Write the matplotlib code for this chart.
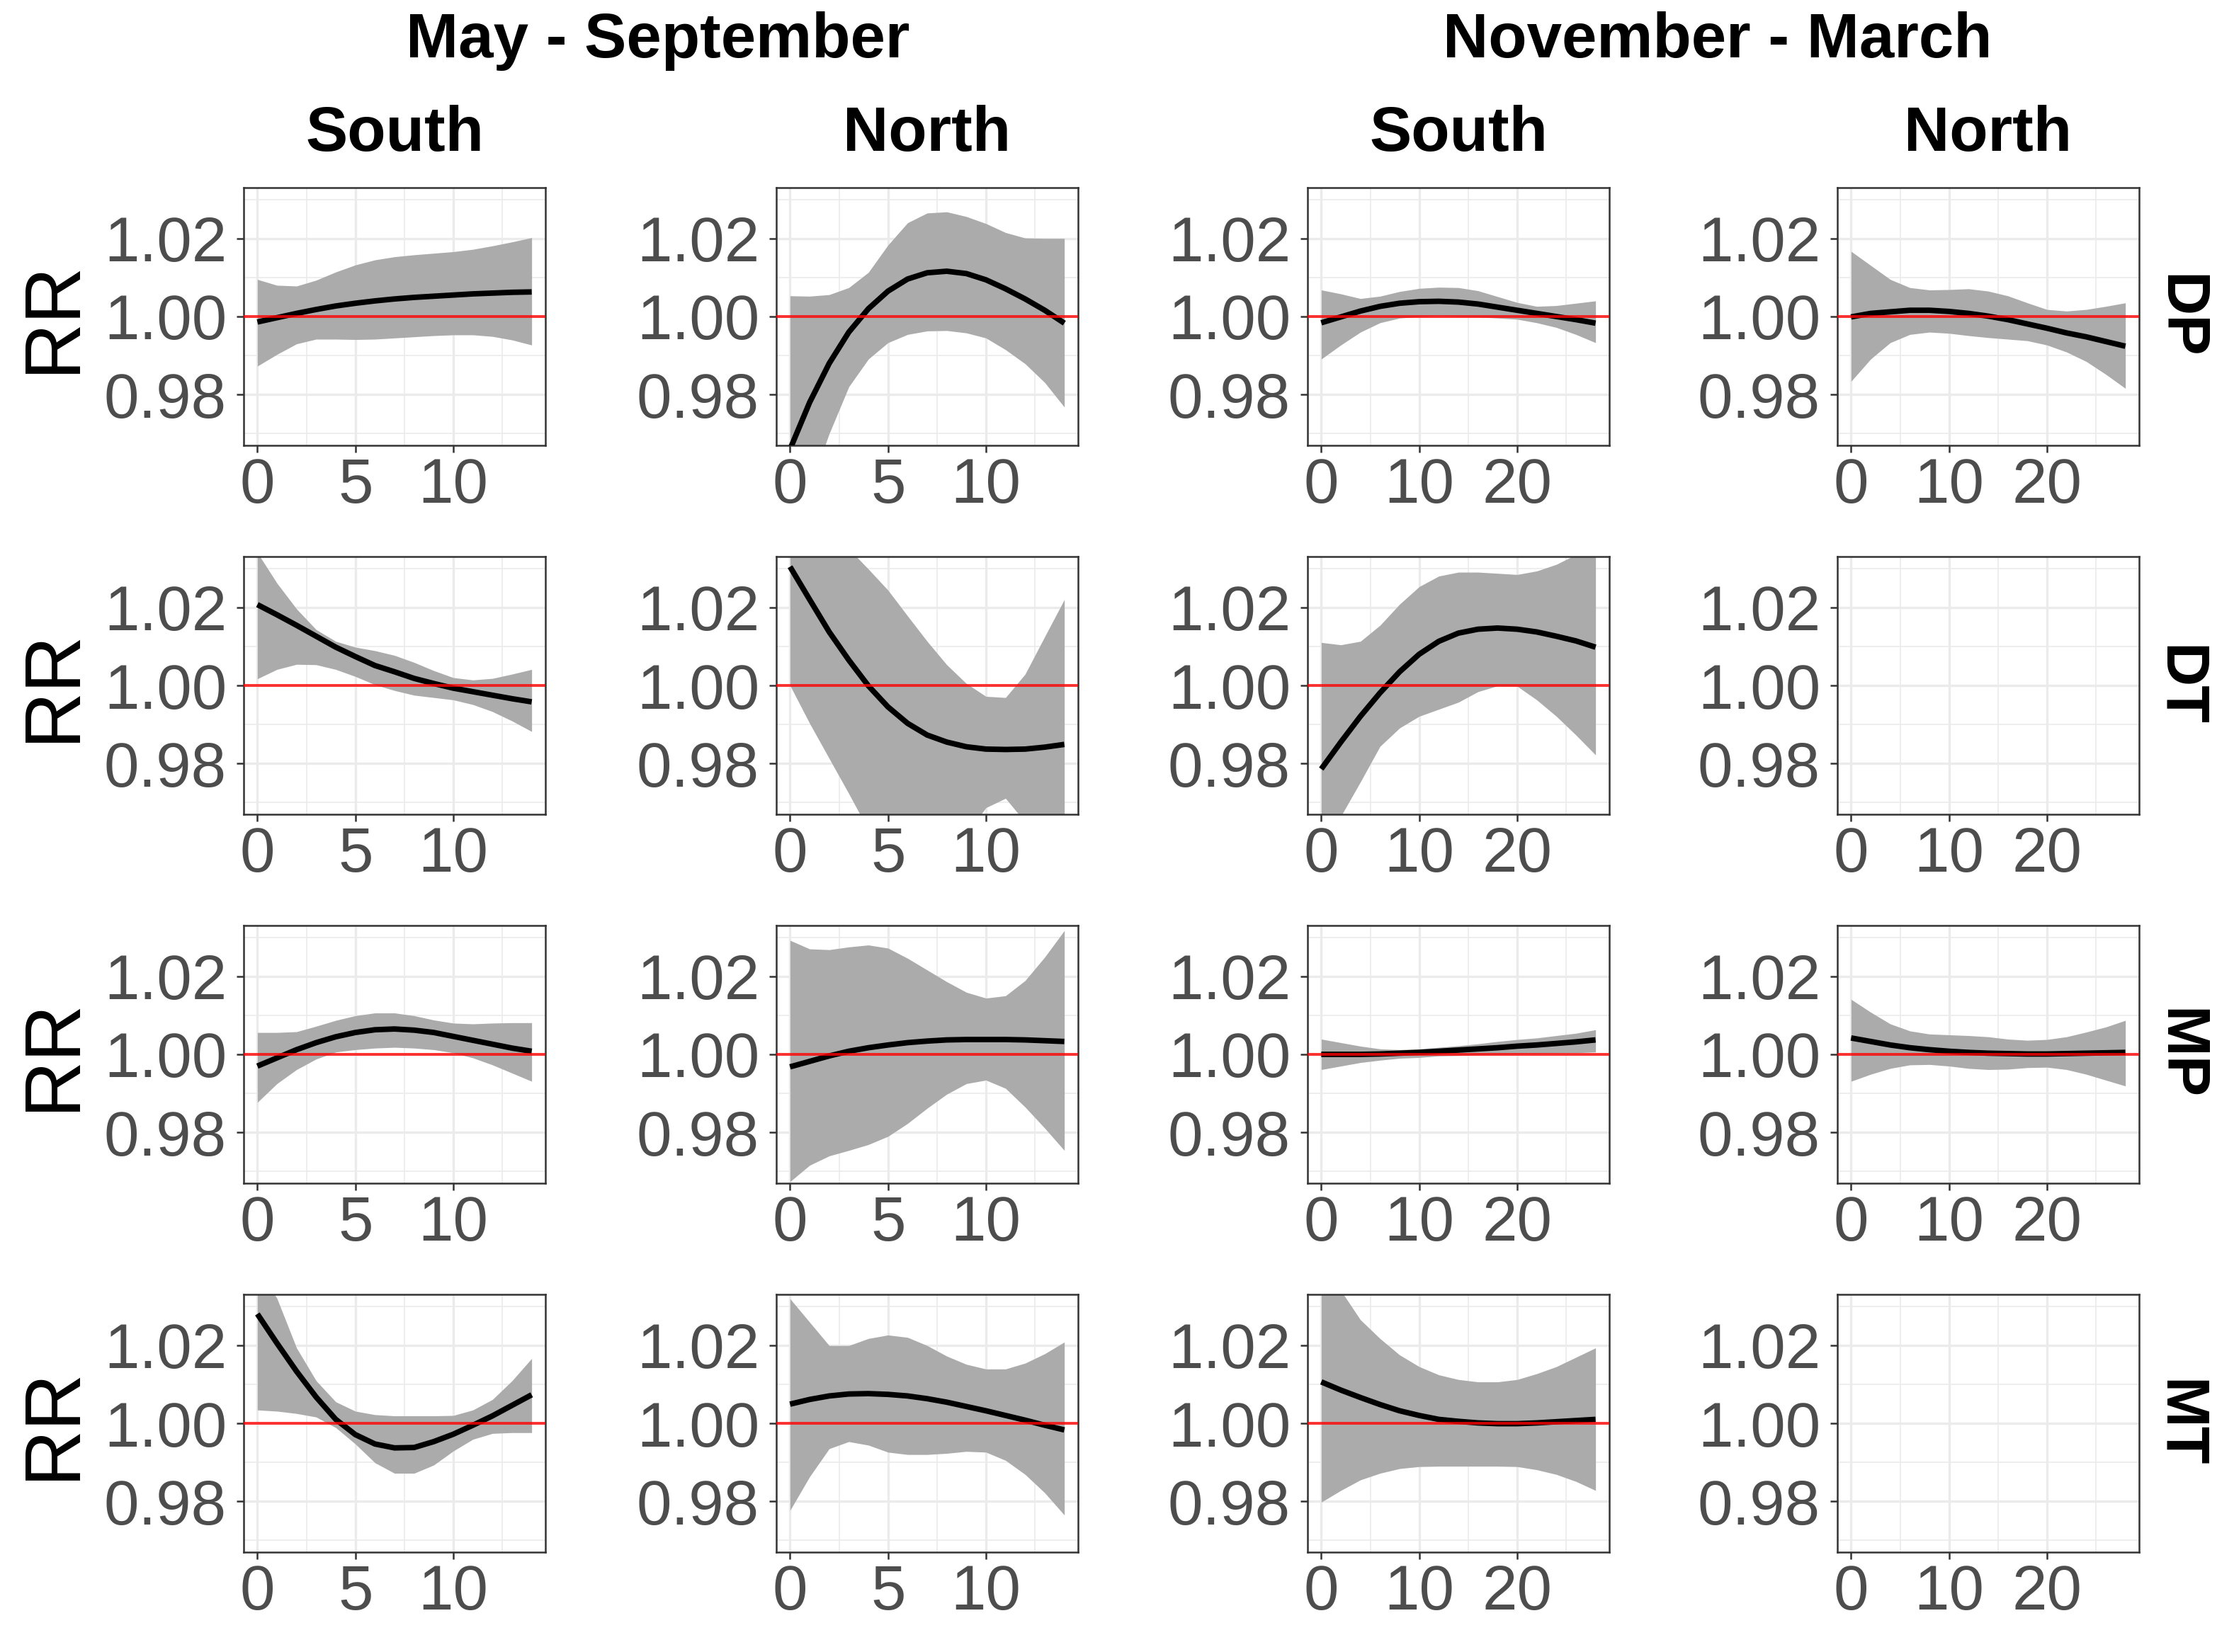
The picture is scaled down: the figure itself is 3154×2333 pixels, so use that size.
import matplotlib
matplotlib.use("Agg")
import matplotlib.pyplot as plt
from matplotlib import font_manager
from matplotlib.ticker import MultipleLocator

# ---------------- data ----------------
lag_summer = [0, 1, 2, 3, 4, 5, 6, 7, 8, 9, 10, 11, 12, 13, 14]
lag_winter = [0, 2, 4, 6, 8, 10, 12, 14, 16, 18, 20, 22, 24, 26, 28]

season_titles = ["May - September", "November - March"]
region_titles = ["South", "North", "South", "North"]
variable_labels = ["DP", "DT", "MP", "MT"]
y_ticks = [0.98, 1.00, 1.02]
y_tick_labels = ["0.98", "1.00", "1.02"]
x_ticks_summer = [0, 5, 10]
x_ticks_winter = [0, 10, 20]
reference_rr = 1.0

# DP, May-Sep, South
dp_ms_s_fit = [0.9986, 0.9997, 1.0008, 1.0018, 1.0027, 1.0034, 1.0040, 1.0045, 1.0049, 1.0052, 1.0055, 1.0058, 1.0060, 1.0062, 1.0063]
dp_ms_s_hi = [1.0095, 1.0080, 1.0078, 1.0093, 1.0114, 1.0132, 1.0145, 1.0153, 1.0158, 1.0162, 1.0166, 1.0172, 1.0181, 1.0191, 1.0202]
dp_ms_s_lo = [0.9873, 0.9903, 0.9930, 0.9942, 0.9942, 0.9941, 0.9942, 0.9945, 0.9948, 0.9951, 0.9953, 0.9953, 0.9949, 0.9940, 0.9927]
# DP, May-Sep, North
dp_ms_n_fit = [0.9660, 0.9780, 0.9880, 0.9960, 1.0020, 1.0065, 1.0096, 1.0112, 1.0116, 1.0110, 1.0094, 1.0071, 1.0045, 1.0016, 0.9983]
dp_ms_n_hi = [1.0053, 1.0052, 1.0056, 1.0074, 1.0113, 1.0183, 1.0240, 1.0265, 1.0268, 1.0256, 1.0238, 1.0215, 1.0201, 1.0200, 1.0200]
dp_ms_n_lo = [0.9400, 0.9560, 0.9700, 0.9820, 0.9891, 0.9933, 0.9954, 0.9963, 0.9964, 0.9958, 0.9945, 0.9915, 0.9879, 0.9831, 0.9768]
# DP, Nov-Mar, South
dp_nm_s_fit = [0.9984, 0.9999, 1.0014, 1.0026, 1.0034, 1.0038, 1.0039, 1.0037, 1.0032, 1.0024, 1.0016, 1.0008, 1.0000, 0.9992, 0.9983]
dp_nm_s_hi = [1.0068, 1.0058, 1.0046, 1.0052, 1.0064, 1.0072, 1.0075, 1.0074, 1.0066, 1.0051, 1.0036, 1.0026, 1.0028, 1.0034, 1.0040]
dp_nm_s_lo = [0.9891, 0.9927, 0.9960, 0.9984, 0.9996, 1.0000, 1.0002, 1.0000, 0.9999, 0.9996, 0.9993, 0.9984, 0.9972, 0.9954, 0.9933]
# DP, Nov-Mar, North
dp_nm_n_fit = [0.9999, 1.0008, 1.0012, 1.0016, 1.0016, 1.0013, 1.0008, 1.0001, 0.9992, 0.9981, 0.9970, 0.9958, 0.9948, 0.9936, 0.9924]
dp_nm_n_hi = [1.0167, 1.0131, 1.0095, 1.0074, 1.0068, 1.0069, 1.0071, 1.0065, 1.0053, 1.0035, 1.0018, 1.0014, 1.0018, 1.0026, 1.0035]
dp_nm_n_lo = [0.9834, 0.9891, 0.9933, 0.9954, 0.9960, 0.9957, 0.9951, 0.9946, 0.9942, 0.9938, 0.9927, 0.9909, 0.9885, 0.9852, 0.9816]

# DT, May-Sep, South
dt_ms_s_fit = [1.0207, 1.0181, 1.0154, 1.0126, 1.0098, 1.0074, 1.0051, 1.0035, 1.0018, 1.0005, 0.9993, 0.9984, 0.9975, 0.9966, 0.9958]
dt_ms_s_hi = [1.0340, 1.0262, 1.0196, 1.0143, 1.0113, 1.0098, 1.0089, 1.0077, 1.0059, 1.0038, 1.0020, 1.0014, 1.0018, 1.0029, 1.0041]
dt_ms_s_lo = [1.0017, 1.0041, 1.0054, 1.0053, 1.0041, 1.0023, 1.0002, 0.9987, 0.9975, 0.9969, 0.9963, 0.9951, 0.9933, 0.9909, 0.9882]
# DT, May-Sep, North
dt_ms_n_fit = [1.0304, 1.0220, 1.0137, 1.0065, 0.9999, 0.9945, 0.9903, 0.9873, 0.9855, 0.9843, 0.9837, 0.9836, 0.9837, 0.9842, 0.9849]
dt_ms_n_hi = [1.0400, 1.0400, 1.0380, 1.0350, 1.0298, 1.0244, 1.0178, 1.0113, 1.0053, 1.0005, 0.9972, 0.9969, 1.0029, 1.0125, 1.0220]
dt_ms_n_lo = [1.0000, 0.9903, 0.9813, 0.9723, 0.9630, 0.9550, 0.9500, 0.9500, 0.9570, 0.9620, 0.9687, 0.9711, 0.9650, 0.9550, 0.9460]
# DT, Nov-Mar, South
dt_nm_s_fit = [0.9786, 0.9855, 0.9921, 0.9981, 1.0035, 1.0080, 1.0113, 1.0134, 1.0144, 1.0147, 1.0144, 1.0137, 1.0126, 1.0114, 1.0098]
dt_nm_s_hi = [1.0110, 1.0104, 1.0113, 1.0154, 1.0208, 1.0253, 1.0280, 1.0290, 1.0290, 1.0287, 1.0284, 1.0293, 1.0310, 1.0335, 1.0360]
dt_nm_s_lo = [0.9580, 0.9665, 0.9753, 0.9844, 0.9891, 0.9921, 0.9939, 0.9957, 0.9984, 0.9999, 0.9998, 0.9963, 0.9921, 0.9873, 0.9822]

# MP, May-Sep, South
mp_ms_s_fit = [0.9970, 0.9991, 1.0012, 1.0030, 1.0045, 1.0056, 1.0063, 1.0065, 1.0062, 1.0056, 1.0046, 1.0036, 1.0026, 1.0016, 1.0008]
mp_ms_s_hi = [1.0056, 1.0056, 1.0058, 1.0072, 1.0087, 1.0099, 1.0106, 1.0106, 1.0099, 1.0088, 1.0080, 1.0078, 1.0080, 1.0081, 1.0081]
mp_ms_s_lo = [0.9877, 0.9925, 0.9961, 0.9988, 1.0006, 1.0012, 1.0016, 1.0018, 1.0016, 1.0012, 1.0004, 0.9991, 0.9973, 0.9952, 0.9931]
# MP, May-Sep, North
mp_ms_n_fit = [0.9968, 0.9982, 0.9996, 1.0008, 1.0017, 1.0024, 1.0030, 1.0034, 1.0037, 1.0038, 1.0038, 1.0038, 1.0037, 1.0035, 1.0033]
mp_ms_n_hi = [1.0292, 1.0270, 1.0268, 1.0275, 1.0280, 1.0272, 1.0246, 1.0216, 1.0186, 1.0159, 1.0144, 1.0150, 1.0189, 1.0249, 1.0317]
mp_ms_n_lo = [0.9674, 0.9716, 0.9740, 0.9754, 0.9769, 0.9790, 0.9823, 0.9862, 0.9898, 0.9925, 0.9934, 0.9913, 0.9865, 0.9811, 0.9754]
# MP, Nov-Mar, South
mp_nm_s_fit = [1.0000, 1.0000, 1.0000, 1.0001, 1.0003, 1.0005, 1.0008, 1.0011, 1.0014, 1.0017, 1.0021, 1.0024, 1.0028, 1.0032, 1.0037]
mp_nm_s_hi = [1.0039, 1.0030, 1.0021, 1.0014, 1.0012, 1.0014, 1.0018, 1.0022, 1.0027, 1.0033, 1.0038, 1.0042, 1.0048, 1.0054, 1.0063]
mp_nm_s_lo = [0.9961, 0.9970, 0.9979, 0.9985, 0.9990, 0.9992, 0.9996, 0.9997, 0.9999, 1.0000, 1.0001, 1.0002, 1.0003, 1.0004, 1.0006]
# MP, Nov-Mar, North
mp_nm_n_fit = [1.0042, 1.0033, 1.0024, 1.0017, 1.0012, 1.0008, 1.0005, 1.0003, 1.0002, 1.0001, 1.0001, 1.0002, 1.0003, 1.0004, 1.0005]
mp_nm_n_hi = [1.0141, 1.0108, 1.0078, 1.0060, 1.0052, 1.0050, 1.0048, 1.0045, 1.0039, 1.0036, 1.0038, 1.0045, 1.0057, 1.0070, 1.0087]
mp_nm_n_lo = [0.9931, 0.9949, 0.9964, 0.9973, 0.9974, 0.9970, 0.9964, 0.9961, 0.9962, 0.9966, 0.9967, 0.9961, 0.9949, 0.9934, 0.9919]

# MT, May-Sep, South
mt_ms_s_fit = [1.0280, 1.0205, 1.0133, 1.0067, 1.0010, 0.9971, 0.9947, 0.9937, 0.9938, 0.9953, 0.9972, 0.9995, 1.0019, 1.0046, 1.0073]
mt_ms_s_hi = [1.0400, 1.0320, 1.0193, 1.0109, 1.0055, 1.0031, 1.0022, 1.0019, 1.0019, 1.0019, 1.0020, 1.0034, 1.0061, 1.0109, 1.0166]
mt_ms_s_lo = [1.0034, 1.0031, 1.0025, 1.0016, 0.9989, 0.9947, 0.9899, 0.9872, 0.9872, 0.9893, 0.9929, 0.9959, 0.9974, 0.9976, 0.9976]
# MT, May-Sep, North
mt_ms_n_fit = [1.0049, 1.0061, 1.0070, 1.0075, 1.0076, 1.0074, 1.0070, 1.0063, 1.0054, 1.0043, 1.0032, 1.0020, 1.0008, 0.9995, 0.9983]
mt_ms_n_hi = [1.0319, 1.0259, 1.0199, 1.0199, 1.0217, 1.0226, 1.0220, 1.0199, 1.0172, 1.0151, 1.0139, 1.0139, 1.0154, 1.0178, 1.0208]
mt_ms_n_lo = [0.9777, 0.9863, 0.9935, 0.9953, 0.9944, 0.9926, 0.9920, 0.9920, 0.9923, 0.9928, 0.9926, 0.9905, 0.9869, 0.9822, 0.9765]
# MT, Nov-Mar, South
mt_nm_s_fit = [1.0106, 1.0085, 1.0066, 1.0048, 1.0032, 1.0020, 1.0010, 1.0005, 1.0001, 0.9999, 0.9999, 1.0001, 1.0004, 1.0007, 1.0010]
mt_nm_s_hi = [1.0400, 1.0340, 1.0265, 1.0217, 1.0175, 1.0145, 1.0124, 1.0112, 1.0106, 1.0106, 1.0112, 1.0127, 1.0145, 1.0169, 1.0193]
mt_nm_s_lo = [0.9798, 0.9828, 0.9855, 0.9872, 0.9884, 0.9889, 0.9890, 0.9890, 0.9890, 0.9890, 0.9889, 0.9881, 0.9869, 0.9851, 0.9828]

# grid of panels: rows = variables, cols = (May-Sep South, May-Sep North, Nov-Mar South, Nov-Mar North)
panels = [
    [(dp_ms_s_fit, dp_ms_s_lo, dp_ms_s_hi), (dp_ms_n_fit, dp_ms_n_lo, dp_ms_n_hi),
     (dp_nm_s_fit, dp_nm_s_lo, dp_nm_s_hi), (dp_nm_n_fit, dp_nm_n_lo, dp_nm_n_hi)],
    [(dt_ms_s_fit, dt_ms_s_lo, dt_ms_s_hi), (dt_ms_n_fit, dt_ms_n_lo, dt_ms_n_hi),
     (dt_nm_s_fit, dt_nm_s_lo, dt_nm_s_hi), None],
    [(mp_ms_s_fit, mp_ms_s_lo, mp_ms_s_hi), (mp_ms_n_fit, mp_ms_n_lo, mp_ms_n_hi),
     (mp_nm_s_fit, mp_nm_s_lo, mp_nm_s_hi), (mp_nm_n_fit, mp_nm_n_lo, mp_nm_n_hi)],
    [(mt_ms_s_fit, mt_ms_s_lo, mt_ms_s_hi), (mt_ms_n_fit, mt_ms_n_lo, mt_ms_n_hi),
     (mt_nm_s_fit, mt_nm_s_lo, mt_nm_s_hi), None],
]

# ---------------- style ----------------
available = {f.name for f in font_manager.fontManager.ttflist}
base_font = "Liberation Sans" if "Liberation Sans" in available else "DejaVu Sans"
plt.rcParams["font.family"] = [base_font, "DejaVu Sans"]

W, H = 3154, 2333
DPI = 200
fig = plt.figure(figsize=(W / DPI, H / DPI), dpi=DPI)

col_left = [344, 1096, 1846, 2594]
col_w = 426
row_top = [265, 786, 1307, 1828]
row_h = 364

tick_color = "#4D4D4D"
border_color = "#333333"
ribbon_color = "#ABABAB"

for r in range(4):
    for c in range(4):
        left = col_left[c] / W
        bottom = (H - row_top[r] - row_h) / H
        ax = fig.add_axes([left, bottom, col_w / W, row_h / H])
        summer = c < 2
        lags = lag_summer if summer else lag_winter
        if summer:
            ax.set_xlim(-0.7, 14.7)
            ax.xaxis.set_major_locator(MultipleLocator(5))
            ax.xaxis.set_minor_locator(MultipleLocator(2.5))
            ax.set_xticks(x_ticks_summer)
            ax.set_xticklabels([str(v) for v in x_ticks_summer])
        else:
            ax.set_xlim(-1.4, 29.4)
            ax.xaxis.set_major_locator(MultipleLocator(10))
            ax.xaxis.set_minor_locator(MultipleLocator(5))
            ax.set_xticks(x_ticks_winter)
            ax.set_xticklabels([str(v) for v in x_ticks_winter])
        ax.set_ylim(0.967, 1.033)
        ax.set_yticks(y_ticks)
        ax.set_yticklabels(y_tick_labels)
        ax.yaxis.set_minor_locator(MultipleLocator(0.01))

        ax.set_facecolor("white")
        ax.set_axisbelow(True)
        ax.grid(which="major", color="#EBEBEB", linewidth=1.2)
        ax.grid(which="minor", color="#EBEBEB", linewidth=0.6)
        for s in ax.spines.values():
            s.set_color(border_color)
            s.set_linewidth(0.9)
        ax.tick_params(which="major", direction="out", length=3.6, width=0.9,
                       color=border_color, labelcolor=tick_color, labelsize=32)
        ax.tick_params(axis="x", which="major", pad=2)
        ax.tick_params(axis="y", which="major", pad=5)
        ax.tick_params(which="minor", length=0)

        data = panels[r][c]
        if data is not None:
            fit, lo, hi = data
            ax.fill_between(lags, lo, hi, color=ribbon_color, linewidth=0, zorder=2)
            ax.plot(lags, fit, color="black", linewidth=2.8, zorder=3,
                    solid_capstyle="butt", solid_joinstyle="round")
            ax.axhline(reference_rr, color="#FF0000", linewidth=1.4, alpha=0.8, zorder=4)

        if c == 0:
            yc = 1 - (row_top[r] + row_h / 2) / H
            fig.text(76 / W, yc, "RR", rotation=90, ha="center", va="center",
                     fontsize=40, color="black")
        if c == 3:
            yc = 1 - (row_top[r] + row_h / 2) / H
            fig.text(3076 / W, yc, variable_labels[r], rotation=-90, ha="center",
                     va="center", fontsize=31, fontweight="bold", color="black")

# facet strip labels
for c in range(4):
    xc = (col_left[c] + col_w / 2) / W
    fig.text(xc, 1 - 190 / H, region_titles[c], ha="center", va="center",
             fontsize=32, fontweight="bold", color="black")

fig.text(((col_left[0] + col_left[1] + col_w) / 2 - 4) / W, 1 - 58 / H, season_titles[0],
         ha="center", va="center", fontsize=32, fontweight="bold", color="black")
fig.text(((col_left[2] + col_left[3] + col_w) / 2 - 8) / W, 1 - 58 / H, season_titles[1],
         ha="center", va="center", fontsize=32, fontweight="bold", color="black")

fig.savefig("out.png", dpi=DPI, facecolor="white")
